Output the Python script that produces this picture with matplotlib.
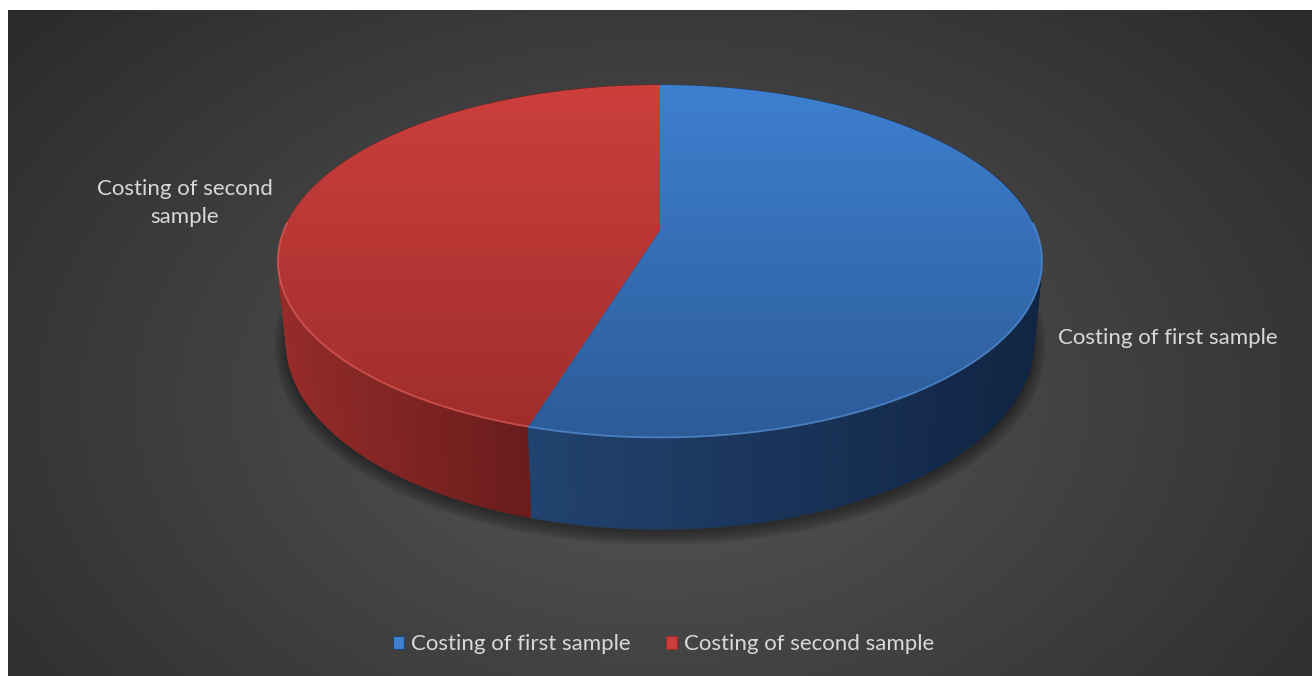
import numpy as np
import matplotlib
matplotlib.use("Agg")
from matplotlib import pyplot as plt
from matplotlib.patches import Polygon, Patch
from matplotlib.collections import PolyCollection
from matplotlib.colors import to_rgb

plt.rcParams['font.family'] = ['Lato', 'DejaVu Sans']

# slice data
labels = ["Costing of first sample", "Costing of second sample"]
costs = [547, 453]

# colours: top face (upper, lower) and side wall (left, right)
top_colors = [("#3e80d0", "#2c5b98"), ("#cc3f3d", "#9e2d2b")]
side_colors = [("#21436f", "#112443"), ("#962c2a", "#6a1c1c")]
rim_colors = ["#5a95db", "#e0605c"]
text_color = "#d9d9d9"

W, H = 1312, 676
fig = plt.figure(figsize=(W / 100, H / 100), dpi=100, facecolor="white")
ax = fig.add_axes([0, 0, 1, 1])

# radial grey background of the chart area
gx, gy = np.meshgrid(np.arange(8, W), np.arange(10, H))
d = np.sqrt(((gx - 660) / 760.0) ** 2 + ((gy - 400) / 520.0) ** 2)
shade = np.clip(0x57 - (0x57 - 0x26) * d / 1.25, 0x26, 0x57) / 255.0
bg = np.dstack([shade, shade, shade])
ax.imshow(bg, extent=(8, W, H, 10), origin="upper", aspect="auto", zorder=0)

# perspective view of the disc
tilt = np.radians(27)
cam = 5.03
R = 376.0
cx, cy = 660.0, 230.0
depth = 0.245


def project(theta, level):
    X = np.sin(theta)
    Z = -np.cos(theta)
    v = level * np.cos(tilt) - Z * np.sin(tilt)
    w = Z * np.cos(tilt) + level * np.sin(tilt)
    k = cam / (cam - w)
    return cx + R * X * k, cy - R * v * k, w


def mix(c0, c1, t):
    a, b = np.array(to_rgb(c0)), np.array(to_rgb(c1))
    return a + (b - a) * t


frac = np.array(costs, dtype=float) / sum(costs)
edges = 2 * np.pi * np.concatenate([[0], np.cumsum(frac)])

# soft shadow below the pie
full = np.linspace(0, 2 * np.pi, 400)
bx, by, _ = project(full, -depth)
for i in range(12, 0, -1):
    ax.add_patch(Polygon(np.column_stack([bx, by + 4]), closed=True,
                         facecolor="none", edgecolor="black",
                         lw=i * 1.5, alpha=0.03, joinstyle="round", zorder=1))
ax.add_patch(Polygon(np.column_stack([bx, by + 3]), closed=True,
                     facecolor="black", alpha=0.12, lw=0, zorder=1))

# side wall, built from thin strips sorted back to front
polys, cols, depths = [], [], []
for i in range(len(costs)):
    th = np.linspace(edges[i], edges[i + 1], max(int(np.degrees(edges[i + 1] - edges[i]) * 2), 4))
    tx, ty, tw = project(th, 0.0)
    ux, uy, uw = project(th, -depth)
    front = np.cos(th) < 0.1
    xmin, xmax = tx[front].min(), tx[front].max()
    for j in range(len(th) - 1):
        quad = [(tx[j], ty[j]), (tx[j + 1], ty[j + 1]), (ux[j + 1], uy[j + 1]), (ux[j], uy[j])]
        t = np.clip((0.5 * (tx[j] + tx[j + 1]) - xmin) / (xmax - xmin), 0, 1)
        polys.append(quad)
        cols.append(mix(side_colors[i][0], side_colors[i][1], t))
        depths.append(0.5 * (tw[j] + tw[j + 1]))
order = np.argsort(depths)
side = PolyCollection([polys[k] for k in order], facecolors=[cols[k] for k in order],
                      edgecolors=[cols[k] for k in order], linewidths=0.6, zorder=2)
ax.add_collection(side)

# top faces with a vertical gradient
_, ytop, _ = project(np.array([0.0]), 0.0)
_, ybot, _ = project(np.array([np.pi]), 0.0)
ramp = np.linspace(0, 1, 200)
for i in range(len(costs)):
    th = np.linspace(edges[i], edges[i + 1], 300)
    tx, ty, _ = project(th, 0.0)
    pts = np.vstack([[cx, cy], np.column_stack([tx, ty])])
    face = Polygon(pts, closed=True, facecolor="none", edgecolor="none", zorder=3)
    ax.add_patch(face)
    grad = np.array([mix(top_colors[i][0], top_colors[i][1], t) for t in ramp])[:, None, :]
    img = ax.imshow(grad, extent=(tx.min() - 2, tx.max() + 2, ybot[0] + 2, ytop[0] - 2),
                    origin="upper", aspect="auto", zorder=3)
    img.set_clip_path(face)
    # light bevel along the front rim
    fr = np.cos(th) < 0.05
    if fr.any():
        ax.plot(tx[fr], ty[fr], color=rim_colors[i], lw=1.3, alpha=0.7,
                solid_capstyle="butt", zorder=4)

# category labels
ax.text(185, 203, "Costing of second\nsample", color=text_color, fontsize=16,
        ha="center", va="center", linespacing=1.55, zorder=5)
ax.text(1058, 338, "Costing of first sample", color=text_color, fontsize=16,
        ha="left", va="center", zorder=5)

handles = [Patch(facecolor=top_colors[i][0], edgecolor=side_colors[i][0], lw=0.8, label=labels[i])
           for i in range(len(costs))]
fig.legend(handles=handles, loc="center", bbox_to_anchor=(0.506, 0.047), ncol=2,
           frameon=False, fontsize=16, labelcolor=text_color, handlelength=0.5,
           handleheight=0.5, handletextpad=0.3, columnspacing=1.6)

ax.set_xlim(0, W)
ax.set_ylim(H, 0)
ax.axis("off")
fig.savefig("out.png", dpi=100, facecolor=fig.get_facecolor())
